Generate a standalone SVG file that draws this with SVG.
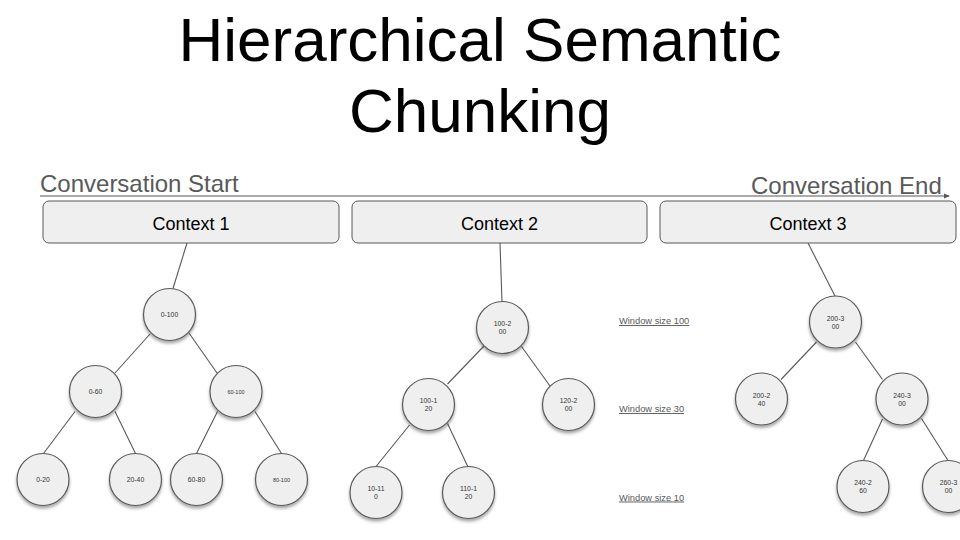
<svg xmlns="http://www.w3.org/2000/svg" width="960" height="540" viewBox="0 0 960 540">
<defs>
<filter id="sh" x="-30%" y="-30%" width="160%" height="170%">
<feDropShadow dx="0" dy="2.5" stdDeviation="1.6" flood-color="#000" flood-opacity="0.35"/>
</filter>
<marker id="ah" viewBox="0 0 6 6" refX="5" refY="3" markerWidth="6" markerHeight="6" orient="auto" markerUnits="userSpaceOnUse">
<path d="M0,0.5 L6,3 L0,5.5 z" fill="#595959"/>
</marker>
</defs>
<style>
.title{font-family:"Liberation Sans",Arial,sans-serif;font-size:62px;fill:#000;text-anchor:middle}
.conv{font-family:"Liberation Sans",Arial,sans-serif;font-size:24px;fill:#595959}
.ctx rect{fill:#efefef;stroke:#595959;stroke-width:1}
.ctx text{font-family:"Liberation Sans",Arial,sans-serif;font-size:18px;fill:#000;text-anchor:middle}
.node circle{fill:#efefef;stroke:#595959;stroke-width:1.2;filter:url(#sh)}
.node text{font-family:"Liberation Sans",Arial,sans-serif;font-size:6.8px;fill:#333;text-anchor:middle}
.node text.s{font-size:5.5px}
.win{font-family:"Liberation Sans",Arial,sans-serif;font-size:9.3px;fill:#595959;text-decoration:underline}
.edges line{stroke:#595959;stroke-width:1.1}
</style>
<rect width="960" height="540" fill="#fff"/>
<text class="title" x="480" y="61">Hierarchical Semantic</text>
<text class="title" x="480" y="132">Chunking</text>
<text class="conv" x="40" y="192">Conversation Start</text>
<text class="conv" x="751" y="194">Conversation End</text>
<g id="timeline">
<line x1="40" y1="196" x2="949" y2="196" stroke="#595959" stroke-width="1.2" marker-end="url(#ah)"/>
</g>
<g id="context1" class="ctx"><rect x="43" y="201" width="296" height="42" rx="6"/><text x="191" y="230">Context 1</text></g>
<g id="context2" class="ctx"><rect x="352" y="201" width="295" height="42" rx="6"/><text x="499.5" y="230">Context 2</text></g>
<g id="context3" class="ctx"><rect x="660" y="201" width="296" height="42" rx="6"/><text x="808" y="230">Context 3</text></g>
<g id="connectors" class="edges">
<line x1="187" y1="243" x2="173" y2="288.5"/>
<line x1="150" y1="334" x2="115" y2="373"/>
<line x1="189" y1="333" x2="217" y2="373"/>
<line x1="75" y1="411.5" x2="43.5" y2="453.5"/>
<line x1="115" y1="411.5" x2="135.5" y2="453.5"/>
<line x1="217.5" y1="411.5" x2="196.5" y2="453.5"/>
<line x1="255" y1="411.5" x2="281.5" y2="453.5"/>
<line x1="500" y1="243" x2="502" y2="302"/>
<line x1="484" y1="346" x2="447.5" y2="384"/>
<line x1="521.5" y1="346.5" x2="550" y2="386"/>
<line x1="409.5" y1="425" x2="376" y2="466.5"/>
<line x1="447.5" y1="423.5" x2="468" y2="467"/>
<line x1="808" y1="243" x2="835" y2="296"/>
<line x1="816.5" y1="342" x2="781" y2="379.5"/>
<line x1="855.5" y1="342" x2="882.5" y2="379.5"/>
<line x1="882.5" y1="419" x2="863.5" y2="460.5"/>
<line x1="921.5" y1="418.5" x2="948" y2="460.5"/>
</g>
<g id="n0-100" class="node"><circle cx="169.5" cy="314.5" r="26"/><text x="169.5" y="317">0-100</text></g>
<g id="n0-60" class="node"><circle cx="95.5" cy="391.5" r="26"/><text x="95.5" y="394">0-60</text></g>
<g id="n60-100" class="node"><circle cx="236" cy="391.5" r="26"/><text class="s" x="236" y="393.5">60-100</text></g>
<g id="n0-20" class="node"><circle cx="43" cy="479.5" r="26"/><text x="43" y="482">0-20</text></g>
<g id="n20-40" class="node"><circle cx="135.5" cy="479.5" r="26"/><text x="135.5" y="482">20-40</text></g>
<g id="n60-80" class="node"><circle cx="196.5" cy="479.5" r="26"/><text x="196.5" y="482">60-80</text></g>
<g id="n80-100" class="node"><circle cx="281.5" cy="479.5" r="26"/><text class="s" x="281.5" y="481.5">80-100</text></g>
<g id="n100-200" class="node"><circle cx="502.5" cy="327.5" r="26"/><text x="502.5" y="326">100-2</text><text x="502.5" y="334">00</text></g>
<g id="n100-120" class="node"><circle cx="428.5" cy="404.5" r="26"/><text x="428.5" y="403">100-1</text><text x="428.5" y="411">20</text></g>
<g id="n120-200" class="node"><circle cx="568.5" cy="404.5" r="26"/><text x="568.5" y="403">120-2</text><text x="568.5" y="411">00</text></g>
<g id="n10-110" class="node"><circle cx="376" cy="492.5" r="26"/><text x="376" y="491">10-11</text><text x="376" y="499">0</text></g>
<g id="n110-120" class="node"><circle cx="468.5" cy="492.5" r="26"/><text x="468.5" y="491">110-1</text><text x="468.5" y="499">20</text></g>
<g id="n200-300" class="node"><circle cx="835.5" cy="322" r="26"/><text x="835.5" y="320.5">200-3</text><text x="835.5" y="328.5">00</text></g>
<g id="n200-240" class="node"><circle cx="761.5" cy="399" r="26"/><text x="761.5" y="397.5">200-2</text><text x="761.5" y="405.5">40</text></g>
<g id="n240-300" class="node"><circle cx="902" cy="399" r="26"/><text x="902" y="397.5">240-3</text><text x="902" y="405.5">00</text></g>
<g id="n240-260" class="node"><circle cx="863" cy="486.5" r="26"/><text x="863" y="485">240-2</text><text x="863" y="493">60</text></g>
<g id="n260-300" class="node"><circle cx="948.5" cy="486.5" r="26"/><text x="948.5" y="485">260-3</text><text x="948.5" y="493">00</text></g>
<g id="window-labels">
<text class="win" x="619" y="324">Window size 100</text>
<text class="win" x="619" y="412">Window size 30</text>
<text class="win" x="619" y="500.5">Window size 10</text>
</g>
</svg>
